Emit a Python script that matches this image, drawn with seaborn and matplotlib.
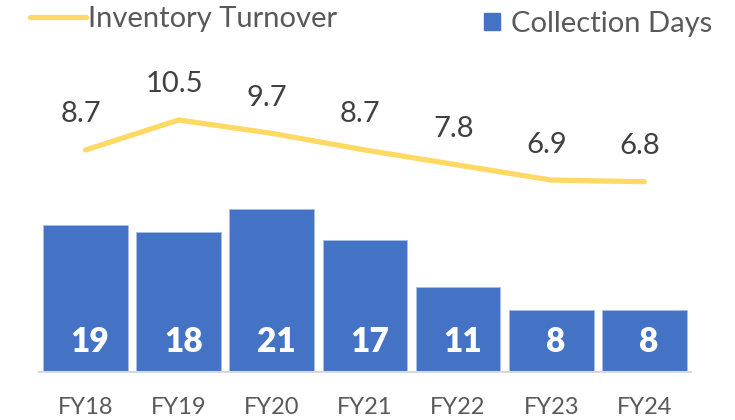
import pandas as pd
import matplotlib.pyplot as plt
import seaborn as sns
from matplotlib.lines import Line2D
from matplotlib.patches import Patch

years = ['FY18', 'FY19', 'FY20', 'FY21', 'FY22', 'FY23', 'FY24']
collection_days = [19, 18, 21, 17, 11, 8, 8]
inventory_turnover = [8.7, 10.5, 9.7, 8.7, 7.8, 6.9, 6.8]

BAR_COLOR = '#4472C4'
LINE_COLOR = '#FFD966'

sns.set_theme(style='white')
plt.rcParams['font.family'] = ['Lato', 'DejaVu Sans']

df = pd.DataFrame({'Year': years, 'Days': collection_days, 'Turnover': inventory_turnover})

fig = plt.figure(figsize=(7.35, 4.2), dpi=100)
ax = fig.add_axes([0.053, 0.114, 0.887, 0.743])

sns.barplot(data=df, x='Year', y='Days', color=BAR_COLOR, saturation=1,
            width=0.91, edgecolor='#A9BEE6', linewidth=0.6, ax=ax)
ax.set_ylim(0, 40.2)
ax.set_xlim(-0.5, 6.5)

# bar labels near the bottom, white bold
for i, v in enumerate(collection_days):
    ax.text(i + 0.05, 3.9, f'{v}', ha='center', va='center', color='white',
            fontsize=24, fontweight='heavy')

ax2 = ax.twinx()
sns.lineplot(data=df, x='Year', y='Turnover', color=LINE_COLOR, linewidth=3.8,
             sort=False, ax=ax2)
ax2.set_ylim(-4.61, 14.09)
ax2.lines[0].set_solid_capstyle('round')

for i, v in enumerate(inventory_turnover):
    ax2.text(i - 0.05, v + 1.35, f'{v}', ha='center', va='bottom', color='#404040',
             fontsize=21)

for a in (ax, ax2):
    for side in ['top', 'right', 'left']:
        a.spines[side].set_visible(False)
    a.set_ylabel('')
    a.set_yticks([])
ax2.spines['bottom'].set_visible(False)
ax.spines['bottom'].set_color('#D9D9D9')
ax.spines['bottom'].set_linewidth(1.5)
ax.set_xlabel('')
ax.tick_params(axis='x', length=0, pad=18, labelsize=17, labelcolor='#595959')

leg1 = fig.legend(handles=[Line2D([0], [0], color=LINE_COLOR, lw=3.8, solid_capstyle='round')],
                  labels=['Inventory Turnover'], loc='center left',
                  bbox_to_anchor=(0.041, 0.955), frameon=False, fontsize=21,
                  borderpad=0, borderaxespad=0,
                  handlelength=1.9, handletextpad=0.1, labelcolor='#595959')
leg2 = fig.legend(handles=[Patch(color=BAR_COLOR)], labels=['Collection Days'],
                  loc='center left', bbox_to_anchor=(0.659, 0.943), frameon=False,
                  fontsize=21, borderpad=0, borderaxespad=0,
                  handlelength=0.55, handleheight=0.55,
                  handletextpad=0.35, labelcolor='#595959')

fig.savefig('out.png', dpi=100)
